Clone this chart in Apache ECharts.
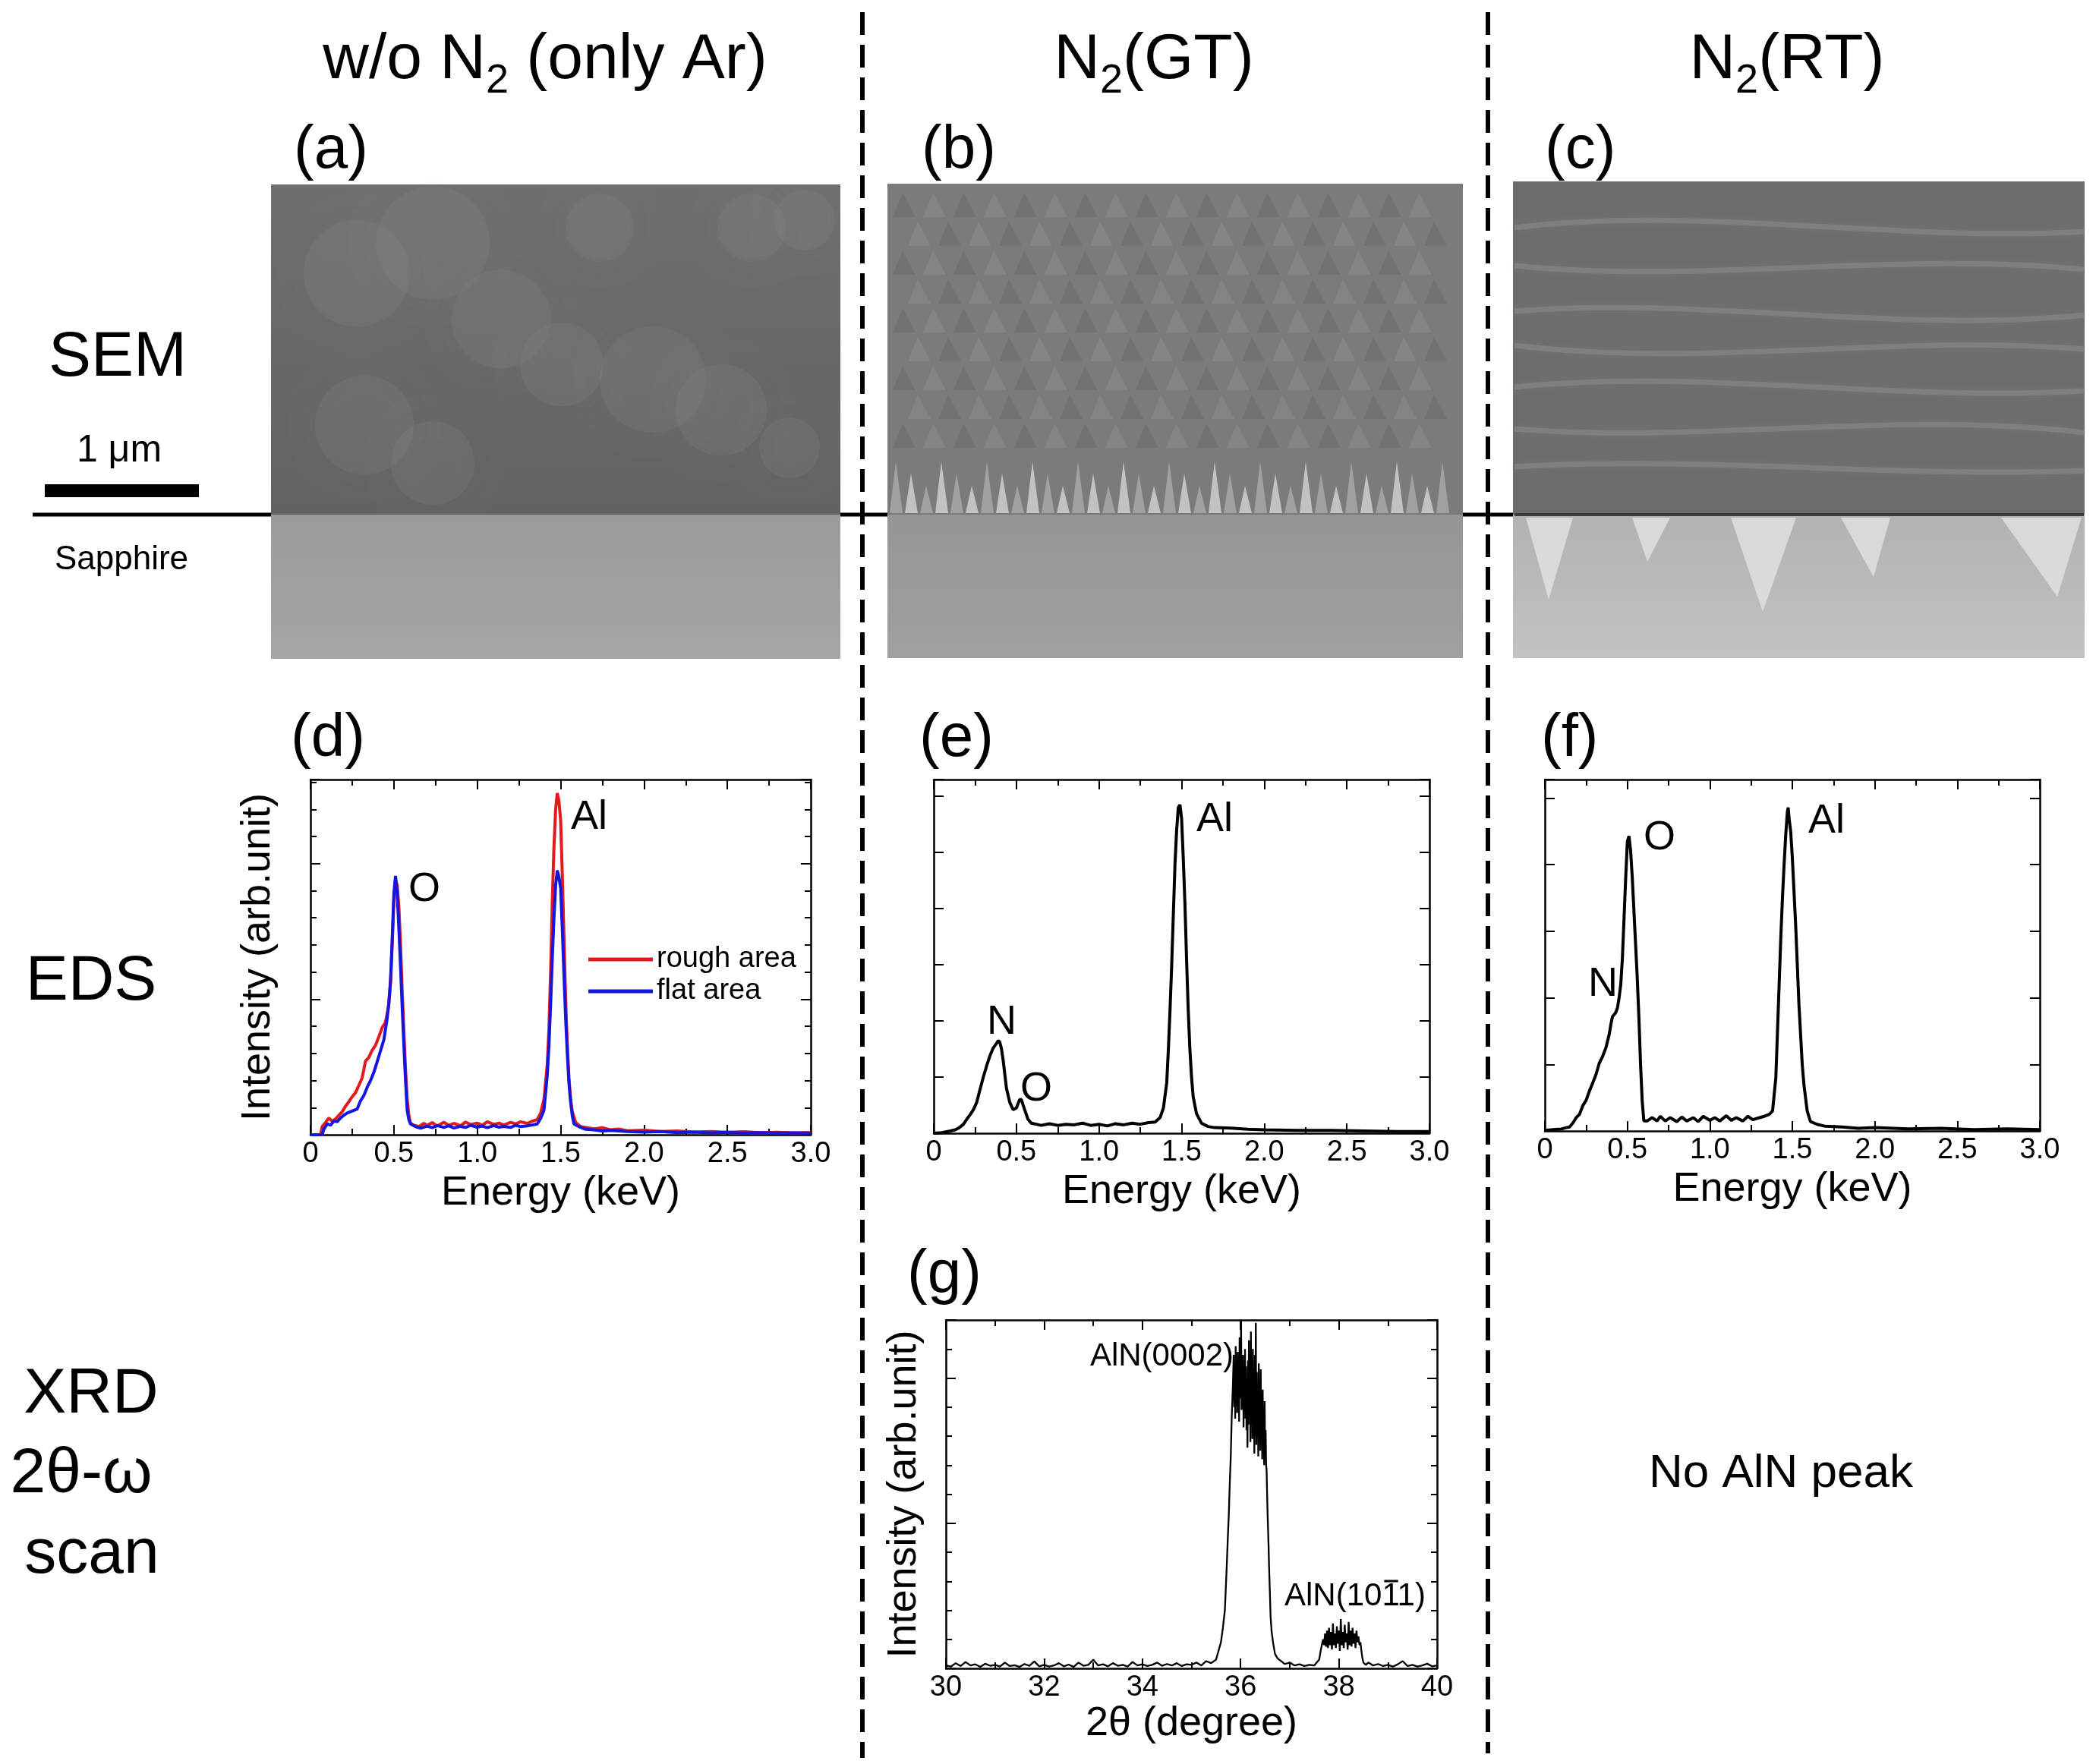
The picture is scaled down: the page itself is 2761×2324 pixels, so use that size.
<!DOCTYPE html>
<html>
<head>
<meta charset="utf-8">
<script src="https://cdn.jsdelivr.net/npm/echarts@6.0.0/dist/echarts.min.js"></script>
<style>
  html, body { margin: 0; padding: 0; background: #fff; }
  #chart { width: 2761px; height: 2324px; }
</style>
</head>
<body>
<div id="chart"></div>
<script>
// ---- data ----
// (d) EDS, w/o N2: [energy keV, intensity a.u.]
const edsRough = [[0,0],[0.06,0],[0.07,0.3],[0.09,0.45],[0.11,0.62],[0.13,0.5],[0.15,0.58],[0.17,0.72],[0.19,0.85],[0.21,1.05],[0.23,1.22],[0.25,1.4],[0.27,1.55],[0.29,1.82],[0.31,2.1],[0.33,2.72],[0.35,2.85],[0.37,3.12],[0.39,3.3],[0.41,3.62],[0.43,3.95],[0.45,4.15],[0.47,4.8],[0.48,5.6],[0.49,7.0],[0.50,8.6],[0.51,9.4],[0.52,9.2],[0.53,8.4],[0.54,7.0],[0.55,5.3],[0.56,3.8],[0.57,2.4],[0.58,1.3],[0.59,0.7],[0.60,0.42],[0.62,0.35],[0.65,0.3],[0.68,0.42],[0.70,0.35],[0.73,0.45],[0.76,0.32],[0.80,0.46],[0.83,0.35],[0.86,0.42],[0.90,0.33],[0.93,0.47],[0.96,0.38],[1.00,0.43],[1.03,0.35],[1.06,0.48],[1.10,0.38],[1.13,0.43],[1.16,0.36],[1.20,0.46],[1.23,0.4],[1.26,0.48],[1.30,0.42],[1.33,0.5],[1.36,0.56],[1.38,0.8],[1.40,1.3],[1.42,2.6],[1.43,3.9],[1.44,6.0],[1.45,8.6],[1.46,10.6],[1.47,12.0],[1.48,12.6],[1.49,12.3],[1.50,11.6],[1.51,9.6],[1.52,7.3],[1.53,5.0],[1.54,3.3],[1.55,2.1],[1.56,1.3],[1.57,0.85],[1.59,0.45],[1.62,0.3],[1.66,0.26],[1.70,0.22],[1.75,0.26],[1.80,0.18],[1.85,0.21],[1.90,0.15],[2.00,0.17],[2.10,0.12],[2.20,0.14],[2.30,0.1],[2.40,0.12],[2.50,0.09],[2.60,0.11],[2.70,0.08],[2.80,0.09],[2.90,0.07],[3.00,0.08]];
const edsFlat = [[0,0],[0.07,0],[0.08,0.2],[0.10,0.4],[0.12,0.35],[0.14,0.5],[0.16,0.48],[0.18,0.62],[0.20,0.72],[0.22,0.8],[0.24,0.85],[0.26,0.9],[0.28,0.95],[0.30,1.25],[0.32,1.45],[0.34,1.75],[0.36,2.0],[0.38,2.3],[0.40,2.7],[0.42,3.1],[0.44,3.5],[0.46,4.3],[0.47,4.9],[0.48,5.7],[0.49,7.2],[0.50,8.9],[0.51,9.55],[0.52,8.9],[0.53,7.6],[0.54,6.2],[0.55,4.7],[0.56,3.3],[0.57,2.0],[0.58,0.9],[0.59,0.55],[0.60,0.4],[0.63,0.3],[0.66,0.24],[0.70,0.32],[0.73,0.26],[0.76,0.34],[0.80,0.27],[0.83,0.33],[0.86,0.25],[0.90,0.31],[0.93,0.27],[0.96,0.35],[1.00,0.28],[1.03,0.32],[1.06,0.26],[1.10,0.34],[1.13,0.28],[1.16,0.31],[1.20,0.27],[1.23,0.35],[1.26,0.3],[1.30,0.33],[1.33,0.36],[1.36,0.4],[1.38,0.6],[1.40,0.9],[1.42,2.2],[1.43,3.3],[1.44,4.8],[1.45,6.5],[1.46,8.0],[1.47,9.2],[1.48,9.75],[1.49,9.5],[1.50,9.1],[1.51,7.6],[1.52,5.9],[1.53,4.3],[1.54,3.0],[1.55,1.9],[1.56,1.2],[1.57,0.7],[1.58,0.4],[1.61,0.3],[1.65,0.2],[1.70,0.18],[1.75,0.14],[1.80,0.16],[1.90,0.12],[2.00,0.1],[2.10,0.12],[2.20,0.08],[2.30,0.1],[2.40,0.07],[2.50,0.09],[2.60,0.06],[2.70,0.08],[2.80,0.06],[2.90,0.07],[3.00,0.06]];
// (e) EDS, N2(GT)
const edsGT = [[0,0],[0.05,0.01],[0.10,0.04],[0.13,0.06],[0.15,0.09],[0.18,0.16],[0.20,0.25],[0.22,0.33],[0.24,0.42],[0.26,0.55],[0.28,0.78],[0.30,1.0],[0.32,1.2],[0.34,1.38],[0.36,1.52],[0.38,1.6],[0.39,1.65],[0.40,1.62],[0.41,1.5],[0.42,1.3],[0.43,1.05],[0.44,0.8],[0.46,0.55],[0.48,0.42],[0.50,0.45],[0.52,0.6],[0.53,0.6],[0.55,0.42],[0.57,0.25],[0.59,0.18],[0.62,0.16],[0.65,0.14],[0.70,0.17],[0.75,0.14],[0.80,0.16],[0.85,0.15],[0.90,0.18],[0.95,0.14],[1.00,0.16],[1.05,0.13],[1.10,0.17],[1.15,0.15],[1.20,0.18],[1.25,0.16],[1.30,0.19],[1.34,0.2],[1.37,0.28],[1.39,0.45],[1.41,0.9],[1.42,1.5],[1.43,2.2],[1.44,3.0],[1.45,3.9],[1.46,4.8],[1.47,5.4],[1.48,5.8],[1.49,5.85],[1.50,5.6],[1.51,4.9],[1.52,4.1],[1.53,3.1],[1.54,2.2],[1.55,1.5],[1.56,1.0],[1.57,0.65],[1.59,0.35],[1.62,0.18],[1.66,0.12],[1.70,0.1],[1.80,0.09],[1.90,0.07],[2.00,0.06],[2.20,0.05],[2.40,0.05],[2.60,0.04],[2.80,0.03],[3.00,0.03]];
// (f) EDS, N2(RT)
const edsRT = [[0,0.01],[0.05,0.02],[0.10,0.03],[0.13,0.05],[0.15,0.06],[0.17,0.12],[0.19,0.2],[0.21,0.25],[0.23,0.38],[0.25,0.46],[0.27,0.6],[0.29,0.72],[0.31,0.85],[0.33,1.02],[0.35,1.12],[0.37,1.25],[0.39,1.45],[0.40,1.6],[0.41,1.72],[0.43,1.78],[0.44,1.85],[0.45,2.0],[0.46,2.2],[0.47,2.6],[0.48,3.2],[0.49,3.8],[0.50,4.35],[0.51,4.43],[0.52,4.2],[0.53,3.8],[0.54,3.3],[0.55,2.8],[0.56,2.3],[0.57,1.7],[0.58,1.0],[0.59,0.45],[0.60,0.15],[0.62,0.15],[0.65,0.2],[0.68,0.15],[0.70,0.22],[0.73,0.15],[0.76,0.2],[0.80,0.14],[0.83,0.21],[0.86,0.15],[0.90,0.2],[0.93,0.14],[0.96,0.22],[1.00,0.16],[1.03,0.2],[1.06,0.15],[1.10,0.23],[1.13,0.16],[1.16,0.2],[1.20,0.15],[1.23,0.22],[1.26,0.17],[1.30,0.2],[1.33,0.22],[1.36,0.25],[1.38,0.3],[1.40,0.8],[1.41,1.5],[1.42,2.2],[1.43,2.9],[1.44,3.5],[1.45,4.0],[1.46,4.45],[1.47,4.8],[1.475,4.86],[1.48,4.7],[1.49,4.5],[1.50,4.1],[1.51,3.6],[1.52,3.1],[1.53,2.5],[1.54,1.9],[1.55,1.45],[1.56,1.0],[1.57,0.7],[1.59,0.3],[1.61,0.14],[1.65,0.1],[1.70,0.07],[1.80,0.06],[1.90,0.04],[2.00,0.05],[2.20,0.03],[2.40,0.04],[2.60,0.02],[2.80,0.03],[3.00,0.02]];
// (g) XRD 2theta-omega, N2(GT): [2theta deg, intensity a.u.]
const xrdGT = [[30.0,0.10],[30.1,0.06],[30.2,0.18],[30.3,0.08],[30.4,0.22],[30.5,0.10],[30.6,0.14],[30.7,0.05],[30.8,0.16],[30.9,0.09],[31.0,0.12],[31.1,0.06],[31.2,0.2],[31.3,0.08],[31.4,0.11],[31.5,0.05],[31.6,0.15],[31.7,0.09],[31.8,0.24],[31.9,0.07],[32.0,0.12],[32.1,0.06],[32.2,0.1],[32.3,0.18],[32.4,0.07],[32.5,0.13],[32.6,0.05],[32.7,0.2],[32.8,0.09],[32.9,0.12],[33.0,0.3],[33.1,0.1],[33.2,0.14],[33.3,0.07],[33.4,0.18],[33.5,0.09],[33.6,0.12],[33.7,0.06],[33.8,0.22],[33.9,0.1],[34.0,0.14],[34.1,0.08],[34.2,0.12],[34.3,0.2],[34.4,0.09],[34.5,0.15],[34.6,0.1],[34.7,0.18],[34.8,0.08],[34.9,0.14],[35.0,0.12],[35.1,0.2],[35.2,0.1],[35.3,0.25],[35.4,0.18],[35.5,0.3],
  [35.55,0.6],[35.6,0.9],[35.64,1.4],[35.68,2.0],[35.7,2.8],[35.72,3.6],[35.74,4.5],[35.76,5.3],[35.78,6.4],[35.8,7.3],[35.82,8.7],[35.84,9.6],[35.86,10.8],[35.87,9.0],[35.88,10.5],[35.89,8.6],[35.9,11.1],[35.91,9.2],[35.92,10.3],[35.93,8.8],[35.94,10.9],[35.95,9.5],[35.96,10.2],[35.97,8.5],[35.98,11.4],[35.99,9.3],[36.0,10.0],[36.01,12.0],[36.02,8.9],[36.03,10.6],[36.04,9.4],[36.05,10.8],[36.06,8.3],[36.07,10.1],[36.08,9.0],[36.09,11.0],[36.10,8.6],[36.11,10.4],[36.12,8.2],[36.13,9.9],[36.14,7.6],[36.15,10.6],[36.16,8.4],[36.17,11.3],[36.18,8.8],[36.19,10.2],[36.20,7.8],[36.21,11.6],[36.22,8.5],[36.23,10.0],[36.24,7.9],[36.25,11.0],[36.26,8.3],[36.27,9.6],[36.28,7.4],[36.29,10.8],[36.30,8.0],[36.31,11.9],[36.32,7.7],[36.33,10.2],[36.34,8.2],[36.35,9.8],[36.36,7.3],[36.37,10.5],[36.38,8.0],[36.39,9.4],[36.40,7.5],[36.41,10.3],[36.42,7.8],[36.43,9.0],[36.44,7.2],[36.45,9.6],[36.46,7.4],[36.47,8.8],[36.48,7.0],[36.49,9.2],[36.50,7.3],[36.51,8.2],[36.52,7.0],[36.53,6.8],[36.54,6.0],[36.55,5.3],[36.57,4.2],[36.58,3.5],[36.6,2.4],[36.61,1.8],[36.63,1.3],[36.66,0.9],[36.7,0.5],[36.75,0.35],[36.8,0.28],[36.85,0.22],[36.9,0.15],[37.0,0.2],[37.1,0.1],[37.2,0.14],[37.3,0.08],[37.4,0.12],[37.5,0.1],[37.55,0.2],
  [37.6,0.3],[37.63,0.6],[37.66,0.85],[37.68,1.0],[37.7,0.8],[37.72,1.2],[37.74,0.75],[37.76,1.3],[37.78,0.7],[37.8,1.4],[37.82,0.8],[37.84,1.25],[37.86,0.65],[37.88,1.55],[37.9,0.8],[37.92,1.2],[37.94,0.7],[37.96,1.45],[37.98,0.85],[38.0,1.3],[38.02,0.6],[38.04,1.7],[38.06,0.8],[38.08,1.25],[38.1,0.7],[38.12,1.5],[38.14,0.9],[38.16,1.2],[38.18,0.65],[38.2,1.6],[38.22,0.8],[38.24,1.3],[38.26,0.75],[38.28,1.4],[38.3,0.85],[38.32,1.2],[38.34,0.7],[38.36,1.3],[38.38,0.9],[38.4,1.1],[38.42,0.8],[38.44,0.9],[38.46,0.6],[38.48,0.35],[38.5,0.2],[38.55,0.12],[38.6,0.2],[38.7,0.1],[38.8,0.15],[38.9,0.08],[39.0,0.12],[39.1,0.06],[39.2,0.14],[39.3,0.25],[39.4,0.08],[39.5,0.12],[39.6,0.06],[39.7,0.1],[39.8,0.16],[39.9,0.07],[40.0,0.1]];

const legendNames = ['rough area', 'flat area'];
const columnTitles = [['w/o N', '2', ' (only Ar)'], ['N', '2', '(GT)'], ['N', '2', '(RT)']];
const rowLabels = ['SEM', 'EDS', 'XRD', '2θ-ω', 'scan'];
const panelLabels = ['(a)', '(b)', '(c)', '(d)', '(e)', '(f)', '(g)'];

const FONT = '"Liberation Sans", Arial, sans-serif';
const chart = echarts.init(document.getElementById('chart'));

// text width helper, used to place subscripts
const mctx = document.createElement('canvas').getContext('2d');
function tw(str, size) {
    mctx.font = size + 'px "Liberation Sans"';
    return mctx.measureText(str).width;
}
function txt(str, x, y, size, align, z) {
    return {
        type: 'text', x: x, y: y, z: z || 10, silent: true,
        style: {
            text: str, font: size + 'px ' + FONT, fill: '#000',
            textAlign: align || 'center', textVerticalAlign: 'middle',
            align: align || 'center', verticalAlign: 'middle'
        }
    };
}

// ---- axes ----
const xAxes = [];
const yAxes = [];
const tickLine = { color: '#000', width: 2 };
function addX(grid, min, max, interval, minorSplit, fmt, name, nameGap) {
    const base = {
        type: 'value', gridIndex: grid, min: min, max: max, interval: interval,
        splitLine: { show: false },
        axisLine: { show: true, onZero: false, lineStyle: { color: '#000', width: 2.5 } },
        axisTick: { show: true, inside: true, length: 13, lineStyle: tickLine },
        minorTick: { show: true, splitNumber: minorSplit, length: 8, lineStyle: tickLine }
    };
    xAxes.push(Object.assign({}, base, {
        position: 'bottom', name: name, nameLocation: 'middle', nameGap: nameGap,
        nameTextStyle: { fontSize: 54, color: '#000', fontFamily: FONT },
        axisLabel: { show: true, margin: 7, fontSize: 38, color: '#000', fontFamily: FONT, formatter: fmt }
    }));
    xAxes.push(Object.assign({}, base, { position: 'top', axisLabel: { show: false } }));
    return xAxes.length - 2;
}
function addY(grid, max, major, minor, name, nameGap) {
    const mk = function (pos, interval, len, line) {
        return {
            type: 'value', gridIndex: grid, min: 0, max: max, interval: interval, position: pos,
            splitLine: { show: false }, axisLabel: { show: false },
            axisLine: { show: line, onZero: false, lineStyle: { color: '#000', width: 2.5 } },
            axisTick: { show: true, inside: true, length: len, lineStyle: tickLine }
        };
    };
    const first = yAxes.length;
    const left = mk('left', major, 13, true);
    if (name) {
        Object.assign(left, {
            name: name, nameLocation: 'middle', nameGap: nameGap, nameRotate: 90,
            nameTextStyle: { fontSize: 54, color: '#000', fontFamily: FONT }
        });
    }
    yAxes.push(left, mk('right', major, 13, true));
    if (minor) yAxes.push(mk('left', minor, 8, false), mk('right', minor, 8, false));
    return first;
}

const keV = function (v) { return v === 0 ? '0' : v.toFixed(1); };
const deg = function (v) { return String(Math.round(v)); };

const grids = [
    { left: 409, top: 1027, width: 659, height: 468 },
    { left: 1230, top: 1027, width: 653, height: 466 },
    { left: 2035, top: 1027, width: 652, height: 463 },
    { left: 1246, top: 1739, width: 647, height: 459 }
];

const xd = addX(0, 0, 3, 0.5, 2, keV, 'Energy (keV)', 50);
const yd = addY(0, 13.1, 5, 1, 'Intensity (arb.unit)', 42);
const xe = addX(1, 0, 3, 0.5, 2, keV, 'Energy (keV)', 50);
const ye = addY(1, 6.3, 1, 0);
const xf = addX(2, 0, 3, 0.5, 2, keV, 'Energy (keV)', 50);
const yf = addY(2, 5.28, 1, 0);
const xg = addX(3, 30, 40, 2, 2, deg, '2θ (degree)', 42);
const yg = addY(3, 12, 5, 1, 'Intensity (arb.unit)', 28);

function spectrum(data, xi, yi, color, width, name) {
    return {
        type: 'line', name: name, xAxisIndex: xi, yAxisIndex: yi, data: data,
        showSymbol: false, symbol: 'none', silent: true, animation: false,
        lineStyle: { color: color, width: width }, itemStyle: { color: color }
    };
}
const RED = '#e3191c', BLUE = '#1515e0';
const series = [
    spectrum(edsRough, xd, yd, RED, 4, legendNames[0]),
    spectrum(edsFlat, xd, yd, BLUE, 4, legendNames[1]),
    spectrum(edsGT, xe, ye, '#000', 4),
    spectrum(edsRT, xf, yf, '#000', 4),
    spectrum(xrdGT, xg, yg, '#000', 2.3)
];

// ---- texts and SEM stand-ins ----
const graphic = [];

// dashed column separators and interface line
graphic.push({ type: 'line', z: 1, silent: true, shape: { x1: 1136, y1: 16, x2: 1136, y2: 2316 },
    style: { stroke: '#000', lineWidth: 6, lineDash: [30, 13] } });
graphic.push({ type: 'line', z: 1, silent: true, shape: { x1: 1960, y1: 16, x2: 1960, y2: 2310 },
    style: { stroke: '#000', lineWidth: 6, lineDash: [30, 13] } });
graphic.push({ type: 'line', z: 2, silent: true, shape: { x1: 43, y1: 678, x2: 1995, y2: 678 },
    style: { stroke: '#000', lineWidth: 5 } });

function rect(x, y, w, h, fill, z) {
    return { type: 'rect', z: z || 3, silent: true, shape: { x: x, y: y, width: w, height: h }, style: { fill: fill } };
}
function vgrad(c0, c1) {
    return new echarts.graphic.LinearGradient(0, 0, 0, 1, [{ offset: 0, color: c0 }, { offset: 1, color: c1 }]);
}
// (a) film + sapphire
graphic.push(rect(357, 243, 750, 437, vgrad('#6f6f6f', '#626262')));
graphic.push(rect(357, 678, 750, 190, vgrad('#9a9a9a', '#a6a6a6')));
[[470, 360, 70], [570, 320, 75], [660, 420, 65], [740, 480, 55], [860, 500, 70], [950, 540, 60],
 [480, 560, 65], [570, 610, 55], [990, 300, 45], [1060, 290, 40], [790, 300, 45], [1040, 590, 40]].forEach(function (b) {
    graphic.push({ type: 'circle', z: 4, silent: true, shape: { cx: b[0], cy: b[1], r: b[2] },
        style: { fill: 'rgba(140,140,140,0.16)', shadowBlur: 30, shadowColor: 'rgba(140,140,140,0.3)' } });
});
// (b) grainy film
graphic.push(rect(1169, 242, 758, 438, '#7b7b7b'));
graphic.push(rect(1169, 678, 758, 189, vgrad('#959595', '#a0a0a0')));
for (let r = 0; r < 9; r++) {
    for (let c = 0; c < 19; c++) {
        const gx = 1176 + c * 40 + (r % 2) * 20, gy = 254 + r * 38;
        if (gx + 30 > 1925) continue;
        graphic.push({ type: 'polygon', z: 4, silent: true,
            shape: { points: [[gx, gy + 32], [gx + 13, gy], [gx + 30, gy + 32]] },
            style: { fill: (r + c) % 2 ? '#949494' : '#666666', opacity: 0.4 } });
    }
}
for (let c = 0; c < 37; c++) {
    const gx = 1172 + c * 20;
    graphic.push({ type: 'polygon', z: 4, silent: true,
        shape: { points: [[gx, 676], [gx + 8, 608 + (c % 3) * 16], [gx + 17, 676]] },
        style: { fill: c % 2 ? '#cfcfcf' : '#a8a8a8', opacity: 0.85 } });
}
// (c) smooth film with waves, faceted sapphire
graphic.push(rect(1993, 239, 753, 441, '#6d6d6d'));
graphic.push(rect(1993, 678, 753, 189, vgrad('#b2b2b2', '#c2c2c2')));
[[300, -30, 20], [350, 25, -20], [410, -20, 30], [455, 30, -15], [510, -25, 20], [565, 20, -25], [615, -15, 15]].forEach(function (w) {
    graphic.push({ type: 'bezierCurve', z: 4, silent: true,
        shape: { x1: 1995, y1: w[0], cpx1: 2240, cpy1: w[0] + w[1], cpx2: 2500, cpy2: w[0] + w[2], x2: 2745, y2: w[0] + 5 },
        style: { stroke: 'rgba(150,150,150,0.4)', lineWidth: 7, fill: null, shadowBlur: 10, shadowColor: 'rgba(150,150,150,0.5)' } });
});
[[2010, 2072, 2040, 790], [2280, 2366, 2322, 806], [2425, 2490, 2468, 760], [2636, 2742, 2710, 786], [2150, 2200, 2170, 740]].forEach(function (t) {
    graphic.push({ type: 'polygon', z: 4, silent: true,
        shape: { points: [[t[0], 682], [t[1], 682], [t[2], t[3]]] },
        style: { fill: '#e6e6e6', opacity: 0.75 } });
});
graphic.push({ type: 'line', z: 4, silent: true, shape: { x1: 1995, y1: 678, x2: 2745, y2: 678 },
    style: { stroke: '#3c3c3c', lineWidth: 4 } });

// column titles with subscript 2
[718, 1520, 2354].forEach(function (cx, i) {
    const p = columnTitles[i];
    const big = 84, small = 54, cy = 80;
    const w1 = tw(p[0], big), w2 = tw(p[1], small), w3 = tw(p[2], big);
    const x0 = cx - (w1 + w2 + w3) / 2;
    graphic.push(txt(p[0], x0, cy, big, 'left'));
    graphic.push(txt(p[1], x0 + w1, cy + 27, small, 'left'));
    graphic.push(txt(p[2], x0 + w1 + w2, cy, big, 'left'));
});

// row labels
[[155, 472], [120, 1294], [120, 1838], [107, 1943], [121, 2049]].forEach(function (p, i) {
    graphic.push(txt(rowLabels[i], p[0], p[1], 84, 'center'));
});
graphic.push(txt('1 μm', 157, 594, 50, 'center'));
graphic.push(rect(59, 638, 203, 17, '#000', 5));
graphic.push(txt('Sapphire', 160, 738, 44, 'center'));
graphic.push(txt('No AlN peak', 2346, 1942, 62, 'center'));

// panel letters
[[387, 199], [1214, 199], [2035, 199], [383, 974], [1211, 974], [2030, 974], [1195, 1680]].forEach(function (p, i) {
    graphic.push(txt(panelLabels[i], p[0], p[1], 80, 'left'));
});

// peak labels
[['O', 538, 1172], ['Al', 752, 1077], ['N', 1300, 1347], ['O', 1344, 1435], ['Al', 1576, 1080],
 ['N', 2092, 1297], ['O', 2165, 1104], ['Al', 2382, 1082]].forEach(function (p) {
    graphic.push(txt(p[0], p[1], p[2], 54, 'left'));
});
graphic.push(txt('AlN(0002)', 1625, 1787, 42, 'right'));
graphic.push(txt('AlN(1011)', 1692, 2103, 42, 'left'));
(function () {
    const ox = 1692 + tw('AlN(10', 42), w = tw('1', 42);
    graphic.push({ type: 'line', z: 10, silent: true, shape: { x1: ox + 3, y1: 2083, x2: ox + w - 2, y2: 2083 },
        style: { stroke: '#000', lineWidth: 3 } });
})();

chart.setOption({
    animation: false,
    backgroundColor: '#fff',
    textStyle: { fontFamily: FONT },
    grid: grids,
    xAxis: xAxes,
    yAxis: yAxes,
    legend: {
        data: legendNames, orient: 'vertical', left: 770, top: 1240,
        icon: 'rect', itemWidth: 85, itemHeight: 5, itemGap: 4,
        textStyle: { fontSize: 38, color: '#000', fontFamily: FONT },
        selectedMode: false
    },
    series: series,
    graphic: graphic
});
</script>
</body>
</html>
